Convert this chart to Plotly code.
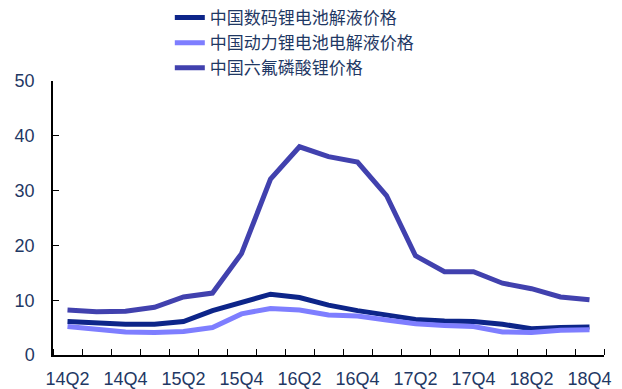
import plotly.graph_objects as go

quarters = ["14Q2", "14Q3", "14Q4", "15Q1", "15Q2", "15Q3", "15Q4", "16Q1", "16Q2", "16Q3",
            "16Q4", "17Q1", "17Q2", "17Q3", "17Q4", "18Q1", "18Q2", "18Q3", "18Q4"]
digital = [6.1, 5.8, 5.6, 5.6, 6.1, 8.1, 9.6, 11.1, 10.5, 9.1, 8.1, 7.3, 6.5, 6.2, 6.1, 5.6, 4.8, 5.0, 5.1]
power = [5.2, 4.6, 4.2, 4.1, 4.3, 5.0, 7.5, 8.5, 8.2, 7.3, 7.1, 6.4, 5.7, 5.4, 5.2, 4.2, 4.1, 4.5, 4.6]
lipf6 = [8.2, 7.9, 8.0, 8.7, 10.6, 11.3, 18.5, 32.1, 38.0, 36.2, 35.2, 29.1, 18.1, 15.2, 15.2, 13.1, 12.1, 10.6, 10.1]
names = ["中国数码锂电池解液价格", "中国动力锂电池电解液价格", "中国六氟磷酸锂价格"]
colors = ["#0D2589", "#7E7EFF", "#4141AE"]

idx = list(range(len(quarters)))
fig = go.Figure()
for vals, name, col in zip([digital, power, lipf6], names, colors):
    fig.add_trace(go.Scatter(x=idx, y=vals, name=name, mode="lines",
                             line=dict(color=col, width=5)))

axis_font = dict(family="Liberation Sans, Arial, sans-serif", size=18, color="#1F3864")
fig.update_layout(
    width=622, height=389,
    margin=dict(l=53, r=18, t=81, b=34, autoexpand=False),
    plot_bgcolor="white", paper_bgcolor="white",
    showlegend=True,
    legend=dict(x=0.212, y=1.2956,
                xanchor="left", yanchor="top", bgcolor="rgba(0,0,0,0)",
                font=dict(family="Noto Sans CJK SC", size=17, color="#1F3864"),
                itemwidth=30, tracegroupgap=0),
    xaxis=dict(range=[-0.5, len(quarters) - 0.5], showgrid=False, zeroline=False,
               showline=True, linecolor="#000000", linewidth=1.5,
               tickmode="array", tickvals=idx[::2], ticktext=quarters[::2],
               ticks="", tickfont=axis_font, tickangle=0, ticklabelstandoff=7,
               minor=dict(tick0=-0.5, dtick=1, ticks="inside", ticklen=6,
                          tickcolor="#000000", showgrid=False)),
    yaxis=dict(range=[0, 50], dtick=10, showgrid=False, zeroline=False,
               showline=True, linecolor="#000000", linewidth=1.5,
               ticks="inside", ticklen=6, tickcolor="#000000",
               tickfont=axis_font, ticklabelstandoff=13),
)
fig.write_html("out.html")
